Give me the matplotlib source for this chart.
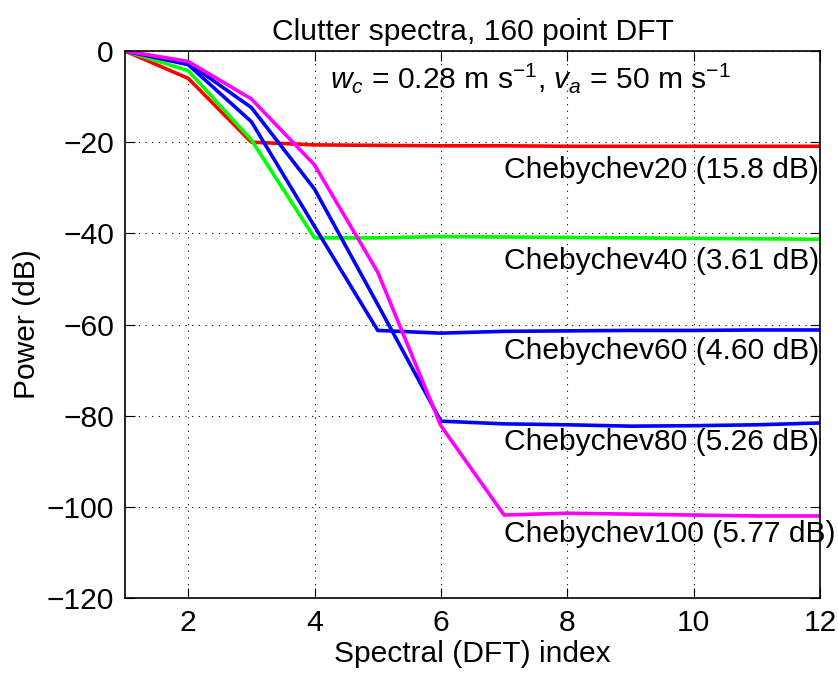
import matplotlib
matplotlib.use("Agg")
import matplotlib.pyplot as plt

plt.rcParams["font.family"] = ["Liberation Sans", "DejaVu Sans"]
plt.rcParams["mathtext.fontset"] = "custom"
plt.rcParams["mathtext.rm"] = "Liberation Sans"
plt.rcParams["mathtext.it"] = "Liberation Sans:italic"

# spectral index
idx = [1, 2, 3, 4, 5, 6, 7, 8, 9, 10, 11, 12]

# power (dB) for each window
cheb20 = [0, -6.0, -20.0, -20.6, -20.7, -20.8, -20.8, -20.9, -20.9, -20.9, -20.9, -20.9]
cheb40 = [0, -4.3, -19.5, -41.0, -41.0, -40.7, -40.8, -40.9, -41.0, -41.1, -41.2, -41.3]
cheb60 = [0, -3.0, -15.5, -38.5, -61.3, -61.9, -61.5, -61.4, -61.3, -61.3, -61.2, -61.2]
cheb80 = [0, -2.6, -12.4, -30.3, -55.6, -81.2, -81.8, -82.0, -82.3, -82.2, -82.0, -81.6]
cheb100 = [0, -2.3, -10.5, -25.0, -48.5, -82.2, -101.8, -101.4, -101.6, -101.8, -102.0, -102.0]

labels = ["Chebychev20 (15.8 dB)", "Chebychev40 (3.61 dB)", "Chebychev60 (4.60 dB)",
          "Chebychev80 (5.26 dB)", "Chebychev100 (5.77 dB)"]
label_y = [-26.2, -46.0, -65.8, -85.7, -106.0]

series = [cheb20, cheb40, cheb60, cheb80, cheb100]
colors = ["#ff0000", "#00ff00", "#0000ff", "#0000ff", "#ff00ff"]

fig = plt.figure(figsize=(8.38, 6.74), dpi=100)
ax = fig.add_axes([125 / 838, 1 - 598 / 674, 695 / 838, 547 / 674])

for vals, c in zip(series, colors):
    ax.plot(idx, vals, color=c, linewidth=2.6)

for lab, y in zip(labels, label_y):
    ax.text(7, y, lab, fontsize=21.6, ha="left", va="center")

ax.text(4.25, -6, r"$w_c$ = 0.28 m s$^{-1}$, $v_a$ = 50 m s$^{-1}$",
        fontsize=21.6, ha="left", va="center")

ax.set_xlim(1, 12)
ax.set_ylim(-120, 0)
ax.set_xticks([2, 4, 6, 8, 10, 12])
ax.set_yticks([-120, -100, -80, -60, -40, -20, 0])
ax.set_yticklabels(["\u2212120", "\u2212100", "\u221280", "\u221260", "\u221240", "\u221220", "0"])
ax.grid(True, linestyle=(0, (1, 5)), color="black", linewidth=0.8)
ax.tick_params(direction="in", top=True, right=True, labelsize=21.6, length=7, pad=8)
for s in ax.spines.values():
    s.set_linewidth(1.2)

ax.set_title("Clutter spectra, 160 point DFT", fontsize=21.6, pad=8)
ax.set_xlabel("Spectral (DFT) index", fontsize=21.6, labelpad=2)
ax.set_ylabel("Power (dB)", fontsize=21.6, labelpad=4)

fig.savefig("out.png", dpi=100)
